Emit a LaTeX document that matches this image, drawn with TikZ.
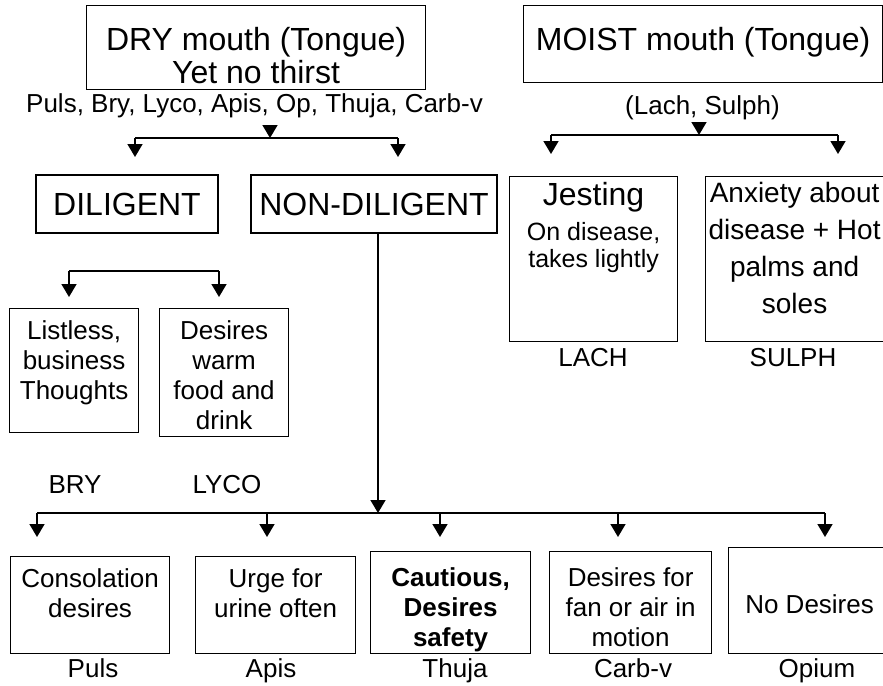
\documentclass[tikz,border=0pt]{standalone}
\usepackage{fontspec}
\setmainfont{Liberation Sans}
\usetikzlibrary{arrows.meta}

\newcommand{\celltxt}[4]{\parbox[c][#2][t]{#1}{\centering\vspace*{#3}#4}}

\begin{document}
\begin{tikzpicture}[x=1pt,y=-1pt,>={Triangle[width=15pt,length=13pt]},
    every node/.style={font=\fontsize{26}{30}\selectfont}]
    \tikzstyle{cell}=[draw, line width=1.2pt, inner sep=0pt, anchor=north west]
    \tikzstyle{head}=[draw, line width=1.2pt, inner sep=0pt, font=\fontsize{32}{33}\selectfont]
    \tikzstyle{tag}=[inner sep=0pt, anchor=base]
    \tikzstyle{link}=[line width=1.6pt]
    \useasboundingbox (0,0) rectangle (883,685);

    % dry side
    \node[cell] (dry) at (86,5) {\celltxt{339pt}{84pt}{22pt}{\fontsize{32}{33}\selectfont DRY mouth (Tongue)\\ Yet no thirst}};
    \node[tag] (drylist) at (254.5,112) {Puls, Bry, Lyco, Apis, Op, Thuja, Carb-v};
    \coordinate (drytop) at (270,125);
    \coordinate (dryjoin) at (270,138);
    \coordinate (dryleft) at (135,138);
    \coordinate (dryright) at (398,138);
    \coordinate (diltip) at (135,157);
    \coordinate (nondiltip) at (398,157);

    \node[head, minimum width=182pt, minimum height=58pt] (dil) at (127,204) {DILIGENT};
    \node[head, minimum width=246pt, minimum height=58pt] (nondil) at (374,204) {NON-DILIGENT};

    \draw [link,->] (drytop) -- (dryjoin);
    \draw [link] (dryleft) -- (dryright);
    \draw [link,->] (dryleft) -- (diltip);
    \draw [link,->] (dryright) -- (nondiltip);

    % moist side
    \node[cell] (moist) at (523,5) {\celltxt{359pt}{77pt}{22pt}{\fontsize{32}{33}\selectfont MOIST mouth (Tongue)}};
    \node[tag] (moistlist) at (702.5,114) {(Lach, Sulph)};
    \coordinate (moisttop) at (699,122);
    \coordinate (moistjoin) at (699,135);
    \coordinate (moistleft) at (551,135);
    \coordinate (moistright) at (838,135);
    \coordinate (lachtip) at (551,154);
    \coordinate (sulphtip) at (838,154);

    \draw [link,->] (moisttop) -- (moistjoin);
    \draw [link] (moistleft) -- (moistright);
    \draw [link,->] (moistleft) -- (lachtip);
    \draw [link,->] (moistright) -- (sulphtip);

    \node[cell] (jest) at (509,176) {\celltxt{168pt}{165pt}{6pt}{{\fontsize{32}{35}\selectfont Jesting\par}\vspace{8pt}{\fontsize{25}{27}\selectfont On disease,\\ takes lightly\par}}};
    \node[cell] (anx) at (705,176) {\celltxt{178pt}{165pt}{6pt}{\fontsize{28}{37}\selectfont Anxiety about\\ disease + Hot\\ palms and\\ soles}};
    \node[tag] (lach) at (593,366) {LACH};
    \node[tag] (sulph) at (793,366) {SULPH};

    % diligent branch
    \coordinate (dilleft) at (69,271);
    \coordinate (dilright) at (219,271);
    \coordinate (brytip) at (69,297);
    \coordinate (lycotip) at (219,297);
    \draw [link,->] (dilleft) -- (brytip);
    \draw [link,->] (dilright) -- (lycotip);
    \draw [link] (dilleft) -- (dilright);

    \node[cell] (listless) at (9,308) {\celltxt{129pt}{124pt}{12pt}{Listless,\\ business\\ Thoughts}};
    \node[cell] (warm) at (159,308) {\celltxt{129pt}{128pt}{12pt}{Desires\\ warm\\ food and\\ drink}};
    \node[tag] (bry) at (75,493) {BRY};
    \node[tag] (lyco) at (227,493) {LYCO};

    % non-diligent branch
    \coordinate (nonjoin) at (378,513);
    \coordinate (pulsjoin) at (37,513);
    \coordinate (apisjoin) at (267,513);
    \coordinate (thujajoin) at (440,513);
    \coordinate (carbjoin) at (618,513);
    \coordinate (opiumjoin) at (825,513);
    \coordinate (pulstip) at (37,537);
    \coordinate (apistip) at (267,537);
    \coordinate (thujatip) at (440,537);
    \coordinate (carbtip) at (618,537);
    \coordinate (opiumtip) at (825,537);

    \draw [link,->] (nondil.south -| nonjoin) -- (nonjoin);
    \draw [link] (pulsjoin) -- (opiumjoin);
    \draw [link,->] (pulsjoin) -- (pulstip);
    \draw [link,->] (apisjoin) -- (apistip);
    \draw [link,->] (thujajoin) -- (thujatip);
    \draw [link,->] (carbjoin) -- (carbtip);
    \draw [link,->] (opiumjoin) -- (opiumtip);

    \node[cell] (puls) at (10,556) {\celltxt{159pt}{97pt}{12pt}{Consolation\\ desires}};
    \node[cell] (apis) at (195,556) {\celltxt{160pt}{97pt}{12pt}{Urge for\\ urine often}};
    \node[cell] (thuja) at (370,551) {\celltxt{160pt}{102pt}{16pt}{\bfseries Cautious,\\ Desires\\ safety}};
    \node[cell] (carb) at (549,551) {\celltxt{162pt}{102pt}{16pt}{Desires for\\ fan or air in\\ motion}};
    \node[cell] (opium) at (728,547) {\celltxt{162pt}{106pt}{47pt}{No Desires}};

    \node[tag] (pulsname) at (93,677) {Puls};
    \node[tag] (apisname) at (271,677) {Apis};
    \node[tag] (thujaname) at (455,677) {Thuja};
    \node[tag] (carbname) at (633,677) {Carb-v};
    \node[tag] (opiumname) at (817,677) {Opium};
\end{tikzpicture}
\end{document}
